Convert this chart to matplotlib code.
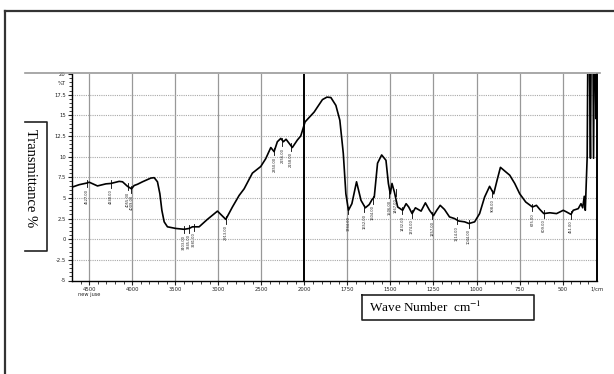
import numpy as np
import matplotlib
matplotlib.use("Agg")
import matplotlib.pyplot as plt
from matplotlib.lines import Line2D
from matplotlib.ticker import FixedLocator, MultipleLocator

# spectrum: wavenumber (1/cm) and %T
wavenumber = [4700, 4616, 4527, 4500, 4404, 4306, 4248, 4152, 4113, 4055,
              4009, 3978, 3939, 3881, 3784, 3745, 3707, 3679, 3656, 3629,
              3591, 3493, 3397, 3339, 3301, 3223, 3127, 3010, 2913, 2836,
              2758, 2700, 2604, 2507, 2449, 2390, 2352, 2314, 2274, 2244,
              2213, 2140, 2082, 2042, 1996, 1943, 1924, 1895, 1869, 1846,
              1817, 1794, 1774, 1759, 1744, 1724, 1697, 1671, 1646, 1623,
              1607, 1594, 1575, 1551, 1526, 1512, 1501, 1491, 1477, 1458,
              1429, 1409, 1394, 1374, 1355, 1322, 1297, 1273, 1250, 1231,
              1211, 1186, 1157, 1128, 1103, 1069, 1044, 1011, 982, 953,
              924, 900, 881, 861, 830, 807, 778, 749, 714, 675,
              652, 632, 609, 574, 535, 496, 477, 451, 438, 409,
              393, 383, 374, 368, 357, 351, 344, 338, 332, 325,
              320, 314, 306, 300]
transmittance = [6.3, 6.6, 6.8, 6.9, 6.45, 6.7, 6.75, 7.0, 6.95, 6.4,
                 6.1, 6.5, 6.65, 6.95, 7.4, 7.45, 6.95, 5.5, 3.5, 2.1,
                 1.5, 1.3, 1.2, 1.3, 1.5, 1.5, 2.4, 3.4, 2.4, 3.9,
                 5.3, 6.1, 8.0, 8.8, 9.75, 11.1, 10.6, 11.8, 12.2, 11.8,
                 12.1, 11.1, 12.0, 12.5, 14.2, 15.4, 16.0, 16.9, 17.2, 17.15,
                 16.2, 14.4, 10.4, 5.5, 3.5, 4.3, 6.95, 4.7, 3.8, 4.2,
                 4.8, 5.1, 9.2, 10.2, 9.55, 6.75, 5.5, 6.75, 5.7, 3.9,
                 3.5, 4.3, 3.9, 3.1, 3.8, 3.4, 4.4, 3.5, 2.85, 3.5,
                 4.1, 3.6, 2.7, 2.5, 2.2, 2.1, 1.9, 2.1, 3.1, 5.1,
                 6.4, 5.5, 7.1, 8.7, 8.15, 7.75, 6.75, 5.5, 4.5, 3.9,
                 4.1, 3.6, 3.1, 3.2, 3.1, 3.5, 3.3, 3.0, 3.5, 3.7,
                 4.3, 3.8, 5.2, 3.5, 10.0, 30.0, 22.0, 9.8, 30.0, 30.0,
                 9.8, 30.0, 14.6, 20.0]

# peak picks (position, %T at the pick)
peak_wn = [4527, 4248, 4055, 4009, 3403, 3345, 3281, 2913, 2350, 2256,
           2158, 1744, 1652, 1604, 1506, 1467, 1432, 1374, 1257, 1114,
           1044, 908, 675, 609, 451]
peak_t = [6.8, 6.75, 6.4, 6.1, 1.2, 1.3, 1.5, 2.4, 10.7, 11.8,
          11.2, 3.5, 3.8, 4.8, 5.5, 5.7, 3.5, 3.1, 2.9, 2.3,
          1.9, 5.6, 3.9, 3.1, 3.0]

x_major = [4500, 4000, 3500, 3000, 2500, 2000, 1750, 1500, 1250, 1000, 750, 500]
y_major = [20, 17.5, 15, 12.5, 10, 7.5, 5, 2.5, 0, -2.5, -5]
y_labels = ["20", "17.5", "15", "12.5", "10", "7.5", "5", "2.5", "0", "-2.5", "-5"]


# the wavenumber axis changes scale at 2000 1/cm (500 per division above, 250 below)
def fwd(w):
    w = np.asarray(w, float)
    return np.where(w >= 2000, (w - 2000) / 500.0, (w - 2000) / 250.0)


def inv(p):
    p = np.asarray(p, float)
    return np.where(p >= 0, 2000 + 500.0 * p, 2000 + 250.0 * p)


W, H = 614, 374
fig = plt.figure(figsize=(W / 100, H / 100), dpi=100)
ax = fig.add_axes([72 / W, 1 - 280.5 / H, 525 / W, 206.5 / H])

ax.set_xscale("function", functions=(fwd, inv))
ax.set_xlim(4700, 300)
ax.set_ylim(-5, 20)

ax.xaxis.set_major_locator(FixedLocator(x_major))
minors = [w for w in range(4600, 2000, -100) if w % 500] + \
         [w for w in range(1950, 300, -50) if w % 250]
ax.xaxis.set_minor_locator(FixedLocator(minors))
ax.set_xticklabels([str(v) for v in x_major])
ax.set_yticks(y_major)
ax.set_yticklabels(y_labels)
ax.yaxis.set_minor_locator(MultipleLocator(0.5))

ax.tick_params(axis="both", which="major", labelsize=3.8, length=3, width=0.8,
               colors="#222222", pad=1.5)
ax.tick_params(axis="both", which="minor", length=2, width=0.6, color="#222222")

for w in x_major:
    if w == 2000:
        ax.axvline(w, color="black", lw=1.4, zorder=1)
    else:
        ax.axvline(w, color="#989898", lw=0.9, zorder=0)
for v in y_major[1:-1]:
    ax.axhline(v, color="#a8a8a8", lw=0.8, ls=(0, (1, 1)), zorder=0)

ax.spines["top"].set_visible(False)
for s in ("left", "bottom", "right"):
    ax.spines[s].set_color("black")
    ax.spines[s].set_linewidth(1.0)
ax.spines["right"].set_linewidth(1.4)

ax.plot(wavenumber, transmittance, color="black", lw=1.2, zorder=3)

for w, t in zip(peak_wn, peak_t):
    ax.plot([w, w], [t - 0.5, t + 0.4], color="black", lw=0.6, zorder=3)
    ax.text(w, t - 0.7, "%.2f" % w, rotation=90, ha="center", va="top",
            fontsize=2.6, color="#222222", zorder=4)

ax.text(-0.012, 18.8, "%T", transform=ax.get_yaxis_transform(), ha="right",
        va="center", fontsize=3.8, color="#222222")
ax.text(4500, -6.4, "new juse", ha="center", va="top", fontsize=3.6, color="#222222")
ax.text(1.0, -0.03, "1/cm", transform=ax.transAxes, ha="center", va="top",
        fontsize=3.8, color="#222222")

# page frame and the grey rule across the top of the plot
fig.add_artist(Line2D([5 / W, 5 / W], [0, 1 - 11 / H], color="#333333", lw=1.6))
fig.add_artist(Line2D([5 / W, 1], [1 - 11 / H, 1 - 11 / H], color="#333333", lw=1.6))
fig.add_artist(Line2D([25 / W, 600 / W], [1 - 73 / H, 1 - 73 / H], color="#9a9a9a", lw=1.2))

# boxed axis titles
serif = "Liberation Serif"
yb = [(25, 122), (46.7, 122), (46.7, 250.5), (25, 250.5)]
fig.add_artist(Line2D([p[0] / W for p in yb], [1 - p[1] / H for p in yb],
                      color="#222222", lw=1.2))
fig.text(30 / W, 1 - 178 / H, "Transmittance %", rotation=-90, ha="center",
         va="center", family=serif, fontsize=10.5)

xb = [(361.7, 294.7), (534.3, 294.7), (534.3, 319.7), (361.7, 319.7), (361.7, 294.7)]
fig.add_artist(Line2D([p[0] / W for p in xb], [1 - p[1] / H for p in xb],
                      color="#222222", lw=1.2))
fig.text(369 / W, 1 - 307.5 / H, "Wave Number  cm$^{-1}$", ha="left", va="center",
         family=serif, fontsize=9.5, math_fontfamily="stix")

fig.savefig("out.png", dpi=100)
